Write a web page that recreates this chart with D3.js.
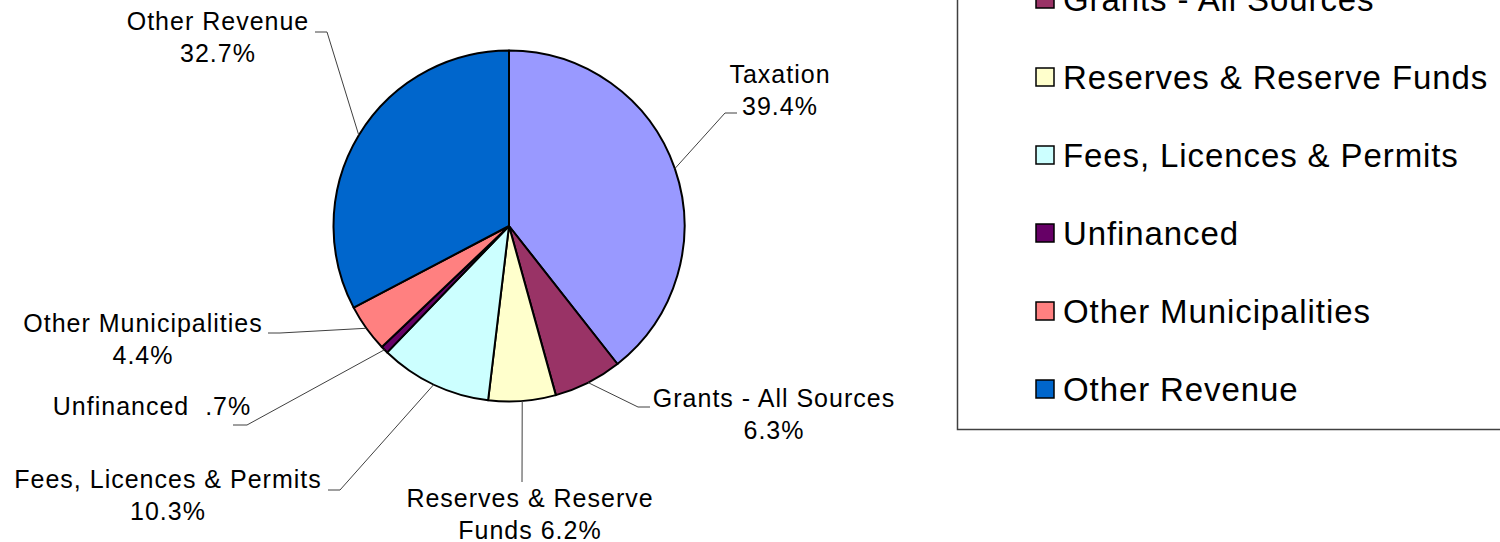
<!DOCTYPE html>
<html>
<head>
<meta charset="utf-8">
<script src="https://cdn.jsdelivr.net/npm/d3@7"></script>
<style>
  body { margin: 0; background: #fff; }
  text { font-family: "Liberation Sans", Arial, sans-serif; fill: #000; white-space: pre; }
</style>
</head>
<body>
<script>
// data
const categories = ['Taxation', 'Grants - All Sources', 'Reserves & Reserve Funds',
  'Fees, Licences & Permits', 'Unfinanced', 'Other Municipalities', 'Other Revenue']
const values = [39.4, 6.3, 6.2, 10.3, 0.7, 4.4, 32.7]
const colors = ['#9999FF', '#993366', '#FFFFCC', '#CCFFFF', '#660066', '#FF8080', '#0066CC']

// label text lines ({p} = percent)
const labelLines = [
  ['Taxation', '{p}'],
  ['Grants - All Sources', '{p}'],
  ['Reserves & Reserve', 'Funds {p}'],
  ['Fees, Licences & Permits', '{p}'],
  ['Unfinanced  {p}'],
  ['Other Municipalities', '{p}'],
  ['Other Revenue', '{p}']
]

// label layout: text centre x, first baseline y, leader elbow, tail direction
const labelLayout = [
  { tx: 780, ty: 83, ex: 725, ey: 113, tail: 12 },
  { tx: 774, ty: 407, ex: 638, ey: 407, tail: 12 },
  { tx: 530, ty: 507, ex: 522, ey: 482, tail: 0 },
  { tx: 168, ty: 488, ex: 340, ey: 490, tail: -12 },
  { tx: 152, ty: 415, ex: 247, ey: 425, tail: -14 },
  { tx: 143, ty: 332, ex: 280, ey: 333, tail: -12 },
  { tx: 218, ty: 30, ex: 327, ey: 32, tail: -12 }
]

const w = 1500, h = 542
const cx = 509, cy = 226, r = 175.5

const fmtPct = v => (v < 1 ? String(v).slice(1) : v.toFixed(1)) + '%'

const svg = d3.select('body').append('svg')
  .attr('width', w)
  .attr('height', h)

const pie = d3.pie().sort(null).value(d => d)
const arcs = pie(values)
const arc = d3.arc().innerRadius(0).outerRadius(r)

const g = svg.append('g').attr('transform', `translate(${cx},${cy})`)

g.selectAll('path')
  .data(arcs)
  .enter()
  .append('path')
  .attr('d', arc)
  .attr('fill', (d, i) => colors[i])
  .attr('stroke', '#000')
  .attr('stroke-width', 2)
  .attr('stroke-linejoin', 'round')

// leader lines
svg.selectAll('polyline.leader')
  .data(arcs)
  .enter()
  .append('polyline')
  .attr('class', 'leader')
  .attr('points', (d, i) => {
    const a = (d.startAngle + d.endAngle) / 2
    const sx = cx + r * Math.sin(a), sy = cy - r * Math.cos(a)
    const L = labelLayout[i]
    const pts = [[sx, sy], [L.ex, L.ey]]
    if (L.tail) pts.push([L.ex + L.tail, L.ey])
    return pts.map(p => p.join(',')).join(' ')
  })
  .attr('fill', 'none')
  .attr('stroke', '#404040')
  .attr('stroke-width', 1)

// data labels
const labels = svg.selectAll('text.lbl')
  .data(arcs)
  .enter()
  .append('text')
  .attr('class', 'lbl')
  .attr('text-anchor', 'middle')
  .attr('font-size', 25)
  .attr('letter-spacing', 1)

labels.each(function (d, i) {
  const L = labelLayout[i]
  d3.select(this).selectAll('tspan')
    .data(labelLines[i])
    .enter()
    .append('tspan')
    .attr('x', L.tx)
    .attr('y', (s, j) => L.ty + j * 32)
    .text(s => s.replace('{p}', fmtPct(values[i])))
})

// legend
const legTop = 77.5 - 2 * 78
svg.append('rect')
  .attr('x', 957.5)
  .attr('y', legTop - 60)
  .attr('width', 600)
  .attr('height', 429.5 - (legTop - 60))
  .attr('fill', 'none')
  .attr('stroke', '#404040')
  .attr('stroke-width', 1.5)

const leg = svg.selectAll('g.leg')
  .data(categories)
  .enter()
  .append('g')
  .attr('class', 'leg')
  .attr('transform', (d, i) => `translate(1036,${legTop + i * 78})`)

leg.append('rect')
  .attr('x', 0)
  .attr('y', -9.5)
  .attr('width', 18)
  .attr('height', 18)
  .attr('fill', (d, i) => colors[i])
  .attr('stroke', '#000')
  .attr('stroke-width', 1.5)

leg.append('text')
  .attr('x', 27)
  .attr('y', 11)
  .attr('font-size', 33)
  .attr('letter-spacing', 0.9)
  .text(d => d)
</script>
</body>
</html>
